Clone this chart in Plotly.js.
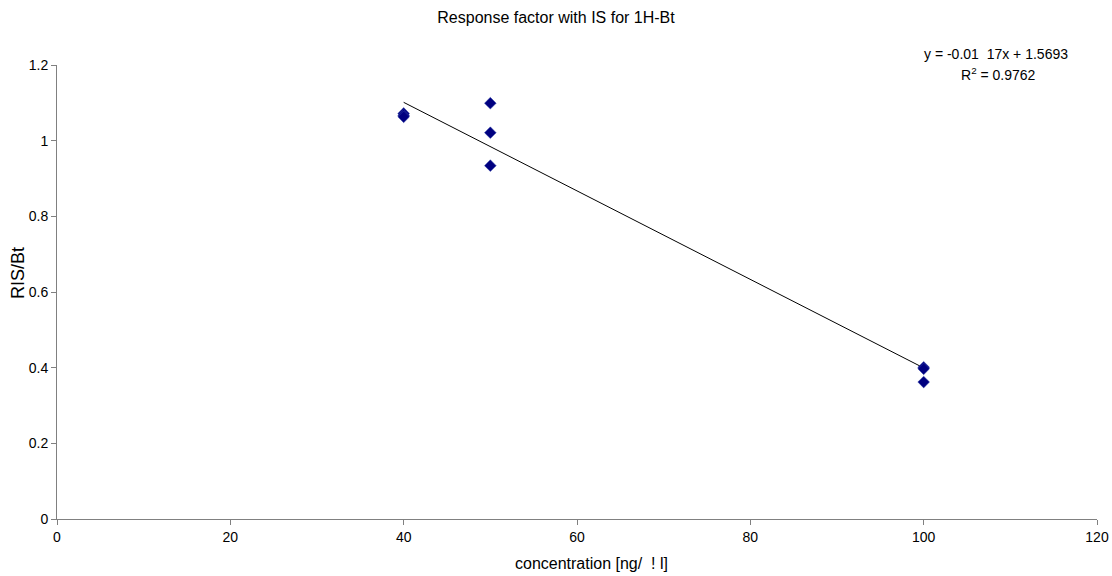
<!DOCTYPE html>
<html>
<head>
<meta charset="utf-8">
<script src="https://cdn.plot.ly/plotly-3.0.1.min.js"></script>
<style>html,body{margin:0;padding:0;background:#fff}#chart{width:1112px;height:576px}</style>
</head>
<body>
<div id="chart"></div>
<script>
// Data
const concentration = [40, 40, 40, 50, 50, 50, 100, 100, 100];
const responseFactor = [1.072, 1.067, 1.063, 1.099, 1.021, 0.934, 0.401, 0.397, 0.362];
const trendSlope = -0.0117;
const trendIntercept = 1.5693;
const trendRange = [40, 100];
const xTicks = [0, 20, 40, 60, 80, 100, 120];
const yTicks = [0, 0.2, 0.4, 0.6, 0.8, 1, 1.2];
const yTickLabels = ['0', '0.2', '0.4', '0.6', '0.8', '1', '1.2'];

const trendX = trendRange;
const trendY = trendRange.map(x => trendSlope * x + trendIntercept);

const fam = 'Liberation Sans, Arial, sans-serif';
const tickFont = {family: fam, size: 14, color: '#000'};

const data = [
  {
    x: trendX, y: trendY, mode: 'lines', type: 'scatter',
    line: {color: '#000', width: 1}, hoverinfo: 'skip', showlegend: false
  },
  {
    x: concentration, y: responseFactor, mode: 'markers', type: 'scatter',
    marker: {symbol: 'diamond', size: 9, color: '#000080', line: {color: '#3344aa', width: 0.5}},
    showlegend: false
  }
];

const layout = {
  width: 1112, height: 576,
  margin: {l: 57, r: 15, t: 65, b: 57},
  paper_bgcolor: '#fff', plot_bgcolor: '#fff',
  font: tickFont,
  showlegend: false,
  title: {text: 'Response factor with IS for 1H-Bt', font: {family: fam, size: 16, color: '#000'}, x: 0.5, xanchor: 'center', y: 0.97, yanchor: 'middle'},
  xaxis: {
    range: [0, 120], tickvals: xTicks, ticktext: xTicks.map(String),
    showgrid: false, zeroline: false, showline: true, linecolor: '#808080', linewidth: 1,
    ticks: 'outside', ticklen: 5, tickcolor: '#808080', tickfont: tickFont
  },
  yaxis: {
    range: [0, 1.2], tickvals: yTicks, ticktext: yTickLabels,
    showgrid: false, zeroline: false, showline: true, linecolor: '#808080', linewidth: 1,
    ticks: 'outside', ticklen: 5, tickcolor: '#808080', tickfont: tickFont
  },
  annotations: [
    {text: 'concentration [ng/  ! l]', xref: 'paper', yref: 'paper', x: 0.514, y: -0.097, xanchor: 'center', yanchor: 'middle', showarrow: false, font: {family: fam, size: 16, color: '#000'}},
    {text: 'RIS/Bt', xref: 'paper', yref: 'paper', x: -0.0375, y: 0.542, xanchor: 'center', yanchor: 'middle', textangle: -90, showarrow: false, font: {family: fam, size: 18, color: '#000'}},
    {text: 'y = -0.01  17x + 1.5693', xref: 'paper', yref: 'paper', x: 0.903, y: 1.024, xanchor: 'center', yanchor: 'middle', showarrow: false, font: tickFont},
    {text: 'R<sup>2</sup> = 0.9762', xref: 'paper', yref: 'paper', x: 0.905, y: 0.98, xanchor: 'center', yanchor: 'middle', showarrow: false, font: tickFont}
  ]
};

Plotly.newPlot('chart', data, layout, {displayModeBar: false, staticPlot: true});
</script>
</body>
</html>
